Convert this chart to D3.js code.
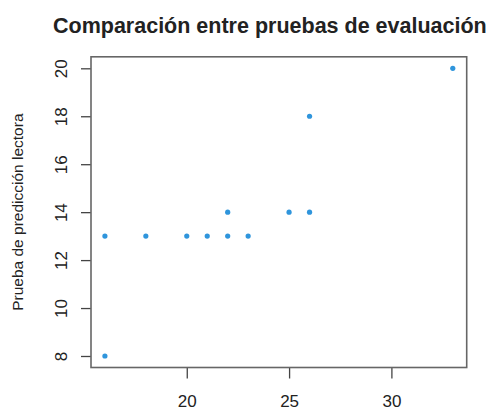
<!DOCTYPE html>
<html>
<head>
<meta charset="utf-8">
<script src="https://cdn.jsdelivr.net/npm/d3@7"></script>
<style>
  body { margin: 0; background: #fff; }
  text { font-family: "Liberation Sans", Arial, sans-serif; fill: #222; }
</style>
</head>
<body>
<div id="chart"></div>
<script>
// scores on the two tests
var xValues = [16, 18, 20, 21, 22, 23, 22, 25, 26, 26, 33, 16];
var yValues = [13, 13, 13, 13, 13, 13, 14, 14, 14, 18, 20, 8];
var xTicks = [20, 25, 30];
var yTicks = [8, 10, 12, 14, 16, 18, 20];
var title = "Comparación entre pruebas de evaluación";
var yTitle = "Prueba de predicción lectora";

var width = 504, height = 408;
var svg = d3.select("#chart").append("svg")
    .attr("width", width)
    .attr("height", height);

// R style: range padded 4% each side
var xExt = d3.extent(xValues), yExt = d3.extent(yValues);
var xPad = (xExt[1] - xExt[0]) * 0.04, yPad = (yExt[1] - yExt[0]) * 0.04;

var x = d3.scaleLinear()
    .domain([xExt[0] - xPad, xExt[1] + xPad])
    .range([91, 466.7]);
var y = d3.scaleLinear()
    .domain([yExt[0] - yPad, yExt[1] + yPad])
    .range([367.5, 56.8]);

var xAxis = svg.append("g")
    .attr("transform", "translate(0," + y.range()[0] + ")")
    .call(d3.axisBottom(x).tickValues(xTicks).tickSize(11).tickPadding(16));
var yAxis = svg.append("g")
    .attr("transform", "translate(" + x.range()[0] + ",0)")
    .call(d3.axisLeft(y).tickValues(yTicks).tickSize(10).tickPadding(0));

[xAxis, yAxis].forEach(function(a) {
  a.select(".domain").remove();
  a.selectAll(".tick line").attr("stroke", "#444").attr("stroke-width", 1.3);
  a.selectAll(".tick text").style("font-size", "17px").attr("fill", "#222");
});

// rotate y labels like R's default
yAxis.selectAll(".tick text")
    .attr("x", null)
    .attr("text-anchor", "middle")
    .attr("transform", "translate(-30,0) rotate(-90)")
    .attr("dy", "0.35em");

svg.append("rect")
    .attr("x", x.range()[0])
    .attr("y", y.range()[1])
    .attr("width", x.range()[1] - x.range()[0])
    .attr("height", y.range()[0] - y.range()[1])
    .attr("fill", "none")
    .attr("stroke", "#666")
    .attr("stroke-width", 1.6);

svg.append("g").selectAll("circle")
    .data(xValues)
    .enter().append("circle")
    .attr("cx", function(d) { return x(d); })
    .attr("cy", function(d, i) { return y(yValues[i]); })
    .attr("r", 2.6)
    .attr("fill", "#2f95dc");

svg.append("text")
    .attr("x", 53)
    .attr("y", 33)
    .style("font-size", "21.5px")
    .style("font-weight", "bold")
    .attr("fill", "#111")
    .text(title);

svg.append("text")
    .attr("transform", "translate(18," + ((y.range()[0] + y.range()[1]) / 2) + ") rotate(-90)")
    .attr("text-anchor", "middle")
    .attr("dy", "0.35em")
    .style("font-size", "15.5px")
    .attr("fill", "#444")
    .text(yTitle);
</script>
</body>
</html>
